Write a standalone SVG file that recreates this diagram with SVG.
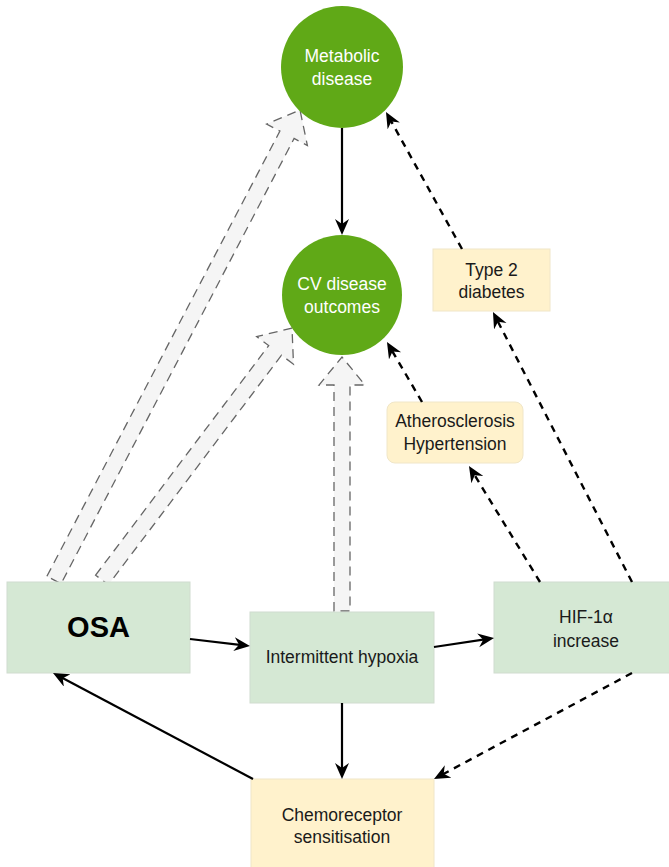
<svg xmlns="http://www.w3.org/2000/svg" width="669" height="867" viewBox="0 0 669 867">
<style>
.t{font-family:"Liberation Sans",Arial,Helvetica,sans-serif;font-size:17.5px;fill:#1a1a1a;text-anchor:middle}
.w{fill:#ffffff}
.green{fill:#d5e8d4;stroke:#d0dccf;stroke-width:1}
.yellow{fill:#fff2cc;stroke:#f0e6c8;stroke-width:1}
.circ{fill:#60a917}
.block{fill:#f5f5f5;stroke:#666666;stroke-width:1.3;stroke-dasharray:9 6}
.solid{fill:none;stroke:#000;stroke-width:2.2;marker-end:url(#ah)}
.dash{fill:none;stroke:#000;stroke-width:2.4;stroke-dasharray:7 6;marker-end:url(#ah)}
</style>
<defs>
<marker id="ah" markerUnits="userSpaceOnUse" markerWidth="18" markerHeight="16" refX="10" refY="7" orient="auto">
<path d="M0,0 L16,7 L0,14 L5,7 Z" fill="#000"/>
</marker>
</defs>
<rect width="669" height="867" fill="#ffffff"/>
<g id="block-arrows">
<polygon class="block" points="46.9,576.3 279.9,131.1 266.6,124.1 300,110 307.4,145.5 294.1,138.5 61.1,583.7"/>
<polygon class="block" points="95.6,575.2 268.7,345.6 256.7,336.6 292,328 293.5,364.2 281.5,355.2 108.4,584.8"/>
<polygon class="block" points="334,611 334,385 319,385 342,357 365,385 350,385 350,611"/>
</g>
<g id="node-metabolic">
<circle class="circ" cx="342" cy="67" r="61"/>
<text class="t w" x="342" y="62">Metabolic</text>
<text class="t w" x="342" y="85">disease</text>
</g>
<g id="node-cv">
<circle class="circ" cx="342" cy="295" r="60"/>
<text class="t w" x="342" y="290">CV disease</text>
<text class="t w" x="342" y="313">outcomes</text>
</g>
<g id="node-type2">
<rect class="yellow" x="433" y="249" width="117" height="62"/>
<text class="t" x="491.5" y="276">Type 2</text>
<text class="t" x="491.5" y="298">diabetes</text>
</g>
<g id="node-athero">
<rect class="yellow" x="387" y="402" width="136" height="61" rx="8"/>
<text class="t" x="455" y="427">Atherosclerosis</text>
<text class="t" x="455" y="450">Hypertension</text>
</g>
<g id="node-osa">
<rect class="green" x="7" y="582" width="183" height="91"/>
<text class="t" x="98.5" y="637" style="font-size:29px;font-weight:bold;fill:#000">OSA</text>
</g>
<g id="node-ih">
<rect class="green" x="250" y="612" width="184" height="91"/>
<text class="t" x="342" y="663">Intermittent hypoxia</text>
</g>
<g id="node-hif">
<rect class="green" x="494" y="582" width="184" height="91"/>
<text class="t" x="586" y="623">HIF-1α</text>
<text class="t" x="586" y="647">increase</text>
</g>
<g id="node-chemo">
<rect class="yellow" x="251" y="779" width="183" height="95"/>
<text class="t" x="342" y="821">Chemoreceptor</text>
<text class="t" x="342" y="843">sensitisation</text>
</g>
<g id="connectors">
<path class="solid" d="M342,128 L342,229"/>
<path class="solid" d="M190,639 L244,645.3"/>
<path class="solid" d="M434,647 L488.1,638.9"/>
<path class="solid" d="M342,703 L342,773"/>
<path class="solid" d="M253,779 L58.3,675.8"/>
<path class="dash" d="M632,673 L439.3,776.2"/>
<path class="dash" d="M540,582 L472.1,471.1"/>
<path class="dash" d="M632,582 L495.7,317.3"/>
<path class="dash" d="M422,402 L390,347.2"/>
<path class="dash" d="M462,249 L388.9,117.2"/>
</g>
</svg>
